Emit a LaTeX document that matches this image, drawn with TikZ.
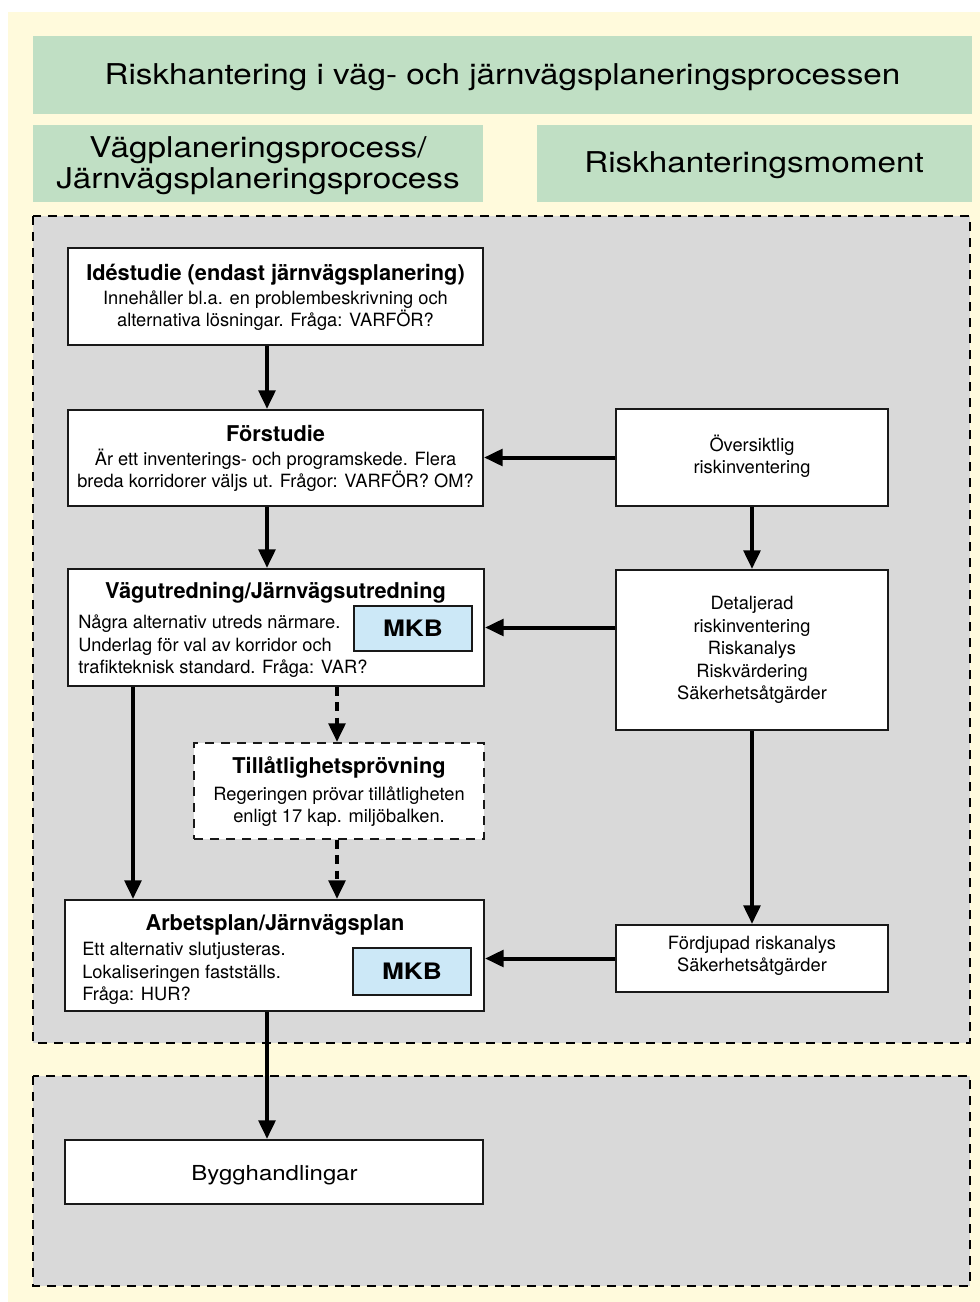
\documentclass[tikz,border=0pt]{standalone}
\usepackage{fontspec}
\setmainfont{TeX Gyre Heros}
\newfontfamily\headfont[FakeStretch=1.16]{TeX Gyre Heros}
\usepackage{xcolor}
\usetikzlibrary{arrows.meta,fit}
\definecolor{cream}{HTML}{FFFADC}
\definecolor{headgreen}{HTML}{C0DFC4}
\definecolor{regiongray}{HTML}{D9D9D9}
\definecolor{mkbblue}{HTML}{CCE8F7}

\begin{document}
\begin{tikzpicture}[x=7.5pt,y=7.5pt]
        \tikzstyle{every node}+=[inner sep=0pt]
        \tikzstyle{region}=[fill=regiongray, draw=black, line width=1.3pt, dash pattern=on 7pt off 5pt]
        \tikzstyle{box}=[fill=white, draw=black!90, line width=1.6pt, inner sep=0pt]
        \tikzstyle{dashbox}=[box, dash pattern=on 7pt off 5pt]
        \tikzstyle{mkb}=[fill=mkbblue, draw=black!90, line width=1.6pt, inner sep=0pt]
        \tikzstyle{mkbtext}=[font=\headfont\bfseries\fontsize{17}{20}\selectfont]
        \tikzstyle{headtext}=[font=\headfont\fontsize{21.5}{23}\selectfont]
        \tikzstyle{titletext}=[font=\bfseries\fontsize{16.3}{19}\selectfont]
        \tikzstyle{bodytext}=[font=\fontsize{13.7}{16.9}\selectfont]
        \tikzstyle{arr}=[line width=3pt, -{Triangle[length=14pt,width=12.5pt]}]
        \tikzstyle{dasharr}=[arr, dash pattern=on 6.5pt off 5pt]
        \useasboundingbox (0,0) rectangle (98,-130.2);
        \fill [cream] (0.8,-1.2) rectangle (98,-130.2);
        \fill [headgreen] (3.3,-3.6) rectangle (97.2,-11.4);
        \fill [headgreen] (3.3,-12.5) rectangle (48.3,-20.2);
        \fill [headgreen] (53.7,-12.5) rectangle (97.2,-20.2);
        \node [headtext, anchor=base] (title) at (50.25,-8.5) {Riskhantering i väg- och järnvägsplaneringsprocessen};
        \node [headtext, anchor=base] (headL1) at (25.8,-15.7) {Vägplaneringsprocess/};
        \node [headtext, anchor=base] (headL2) at (25.8,-18.8) {Järnvägsplaneringsprocess};
        \node [headtext, anchor=base] (headR) at (75.4,-17.3) {Riskhanteringsmoment};
        \draw [region] (3.3,-21.6) rectangle (97,-104.3);
        \draw [region] (3.3,-107.6) rectangle (97,-128.6);
        \node [box, fit={(6.8,-24.8) (48.3,-34.5)}] (ide) {};
        \node [box, fit={(6.8,-41) (48.3,-50.6)}] (forst) {};
        \node [box, fit={(6.8,-56.9) (48.4,-68.6)}] (vagut) {};
        \node [dashbox, fit={(19.4,-74.3) (48.4,-83.9)}] (tillat) {};
        \node [box, fit={(6.5,-90) (48.4,-101.1)}] (arbpl) {};
        \node [box, fit={(6.5,-114) (48.3,-120.4)}] (bygg) {};
        \node [box, fit={(61.6,-40.9) (88.8,-50.6)}] (oversikt) {};
        \node [box, fit={(61.6,-57) (88.8,-73)}] (detalj) {};
        \node [box, fit={(61.6,-92.5) (88.8,-99.2)}] (fordjup) {};
        \node [mkb, fit={(35.4,-60.6) (47.2,-65.1)}] (vagutM) {};
        \node [mkb, fit={(35.3,-94.8) (47.1,-99.5)}] (arbplM) {};
        \node [mkbtext] (vagutMT) at (vagutM.center) {MKB};
        \node [mkbtext] (arbplMT) at (arbplM.center) {MKB};
        \node [titletext, anchor=base] (ideH) at (27.55,-28) {Idéstudie (endast järnvägsplanering)};
        \node [bodytext, anchor=base] (ide1) at (27.55,-30.4) {Innehåller bl.a. en problembeskrivning och};
        \node [bodytext, anchor=base] (ide2) at (27.55,-32.6) {alternativa lösningar. Fråga: VARFÖR?};
        \node [titletext, anchor=base] (forstH) at (27.55,-44.1) {Förstudie};
        \node [bodytext, anchor=base] (forst1) at (27.55,-46.5) {Är ett inventerings- och programskede. Flera};
        \node [bodytext, anchor=base] (forst2) at (27.55,-48.7) {breda korridorer väljs ut. Frågor: VARFÖR? OM?};
        \node [titletext, anchor=base] (vagutH) at (27.55,-59.8) {Vägutredning/Järnvägsutredning};
        \node [bodytext, anchor=base west] (vagut1) at (7.8,-62.8) {Några alternativ utreds närmare.};
        \node [bodytext, anchor=base west] (vagut2) at (7.8,-65.1) {Underlag för val av korridor och};
        \node [bodytext, anchor=base west] (vagut3) at (7.8,-67.3) {trafikteknisk standard. Fråga: VAR?};
        \node [titletext, anchor=base] (tillatH) at (33.9,-77.3) {Tillåtlighetsprövning};
        \node [bodytext, anchor=base] (tillat1) at (33.9,-80) {Regeringen prövar tillåtligheten};
        \node [bodytext, anchor=base] (tillat2) at (33.9,-82.2) {enligt 17 kap. miljöbalken.};
        \node [titletext, anchor=base] (arbplH) at (27.5,-93) {Arbetsplan/Järnvägsplan};
        \node [bodytext, anchor=base west] (arbpl1) at (8.2,-95.5) {Ett alternativ slutjusteras.};
        \node [bodytext, anchor=base west] (arbpl2) at (8.2,-97.8) {Lokaliseringen fastställs.};
        \node [bodytext, anchor=base west] (arbpl3) at (8.2,-100) {Fråga: HUR?};
        \node [anchor=base, font=\headfont\fontsize{15.5}{18}\selectfont] (byggT) at (27.45,-118) {Bygghandlingar};
        \node [bodytext, anchor=base] (oversikt1) at (75.2,-45.15) {Översiktlig};
        \node [bodytext, anchor=base] (oversikt2) at (75.2,-47.3) {riskinventering};
        \node [bodytext, anchor=base] (detalj1) at (75.2,-60.95) {Detaljerad};
        \node [bodytext, anchor=base] (detalj2) at (75.2,-63.2) {riskinventering};
        \node [bodytext, anchor=base] (detalj3) at (75.2,-65.45) {Riskanalys};
        \node [bodytext, anchor=base] (detalj4) at (75.2,-67.7) {Riskvärdering};
        \node [bodytext, anchor=base] (detalj5) at (75.2,-69.95) {Säkerhetsåtgärder};
        \node [bodytext, anchor=base] (fordjup1) at (75.2,-94.95) {Fördjupad riskanalys};
        \node [bodytext, anchor=base] (fordjup2) at (75.2,-97.15) {Säkerhetsåtgärder};
        \draw [arr] (26.7,0 |- ide.south) -- (26.7,0 |- forst.north);
        \draw [arr] (26.7,0 |- forst.south) -- (26.7,0 |- vagut.north);
        \draw [arr] (13.3,0 |- vagut.south) -- (13.3,0 |- arbpl.north);
        \draw [dasharr] (33.7,0 |- vagut.south) -- (33.7,0 |- tillat.north);
        \draw [dasharr] (33.7,0 |- tillat.south) -- (33.7,0 |- arbpl.north);
        \draw [arr] (26.7,0 |- arbpl.south) -- (26.7,0 |- bygg.north);
        \draw [arr] (oversikt.west) -- (oversikt.west -| forst.east);
        \draw [arr] (oversikt.south) -- (detalj.north);
        \draw [arr] (detalj.west |- vagut.east) -- (vagut.east);
        \draw [arr] (detalj.south) -- (fordjup.north);
        \draw [arr] (fordjup.west) -- (fordjup.west -| arbpl.east);
\end{tikzpicture}
\end{document}
